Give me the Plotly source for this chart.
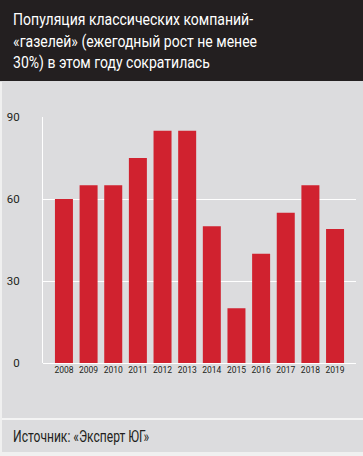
import plotly.graph_objects as go

years = ["2008", "2009", "2010", "2011", "2012", "2013", "2014", "2015", "2016", "2017", "2018", "2019"]
values = [60, 65, 65, 75, 85, 85, 50, 20, 40, 55, 65, 49]
y_ticks = [0, 30, 60, 90]

title_lines = ["Популяция классических компаний-",
               "«газелей» (ежегодный рост не менее",
               "30%) в этом году сократилась"]
source = "Источник: «Эксперт ЮГ»"

W, H = 363, 456
L, R, T, B = 43, 7, 117, 93
PW = W - L - R
PH = H - T - B

def px(x):
    return (x - L) / PW

def py(y):
    return (H - B - y) / PH

FONT = "Roboto, Liberation Sans, sans-serif"
BG = "#dcdcde"
DARK = "#231f20"
RED = "#d0222f"

fig = go.Figure(go.Bar(x=years, y=values, marker_color=RED, marker_line_width=0,
                       width=0.73))

shapes = [
    dict(type="rect", xref="paper", yref="paper", x0=px(0), x1=px(W + 2), y0=py(81), y1=py(-2),
         fillcolor=DARK, line_width=0, layer="below"),
    dict(type="line", xref="paper", yref="paper", x0=px(0), x1=px(W + 2), y0=py(419), y1=py(419),
         line=dict(color="#f4f4f4", width=2)),
    dict(type="rect", xref="paper", yref="paper", x0=px(0), x1=px(W + 2), y0=py(H + 2), y1=py(452),
         fillcolor="#f0f0f0", line_width=0, layer="below"),
    dict(type="line", xref="paper", yref="paper", x0=px(1), x1=px(1), y0=py(452), y1=py(82),
         line=dict(color="#f0f0f0", width=2)),
]

title_centers = [19.5, 41, 62.5]
annotations = []
for line, yc in zip(title_lines, title_centers):
    annotations.append(dict(text=line, xref="paper", yref="paper", x=px(11), y=py(yc),
                            xanchor="left", yanchor="middle", showarrow=False,
                            font=dict(family=FONT, size=16.5, color="white")))
annotations.append(dict(text=source, xref="paper", yref="paper", x=px(11), y=py(435.5),
                        xanchor="left", yanchor="middle", showarrow=False,
                        font=dict(family=FONT, size=17, color=DARK)))

fig.update_layout(
    width=W, height=H,
    margin=dict(l=L, r=R, t=T, b=B, pad=0),
    paper_bgcolor=BG, plot_bgcolor=BG,
    showlegend=False,
    shapes=shapes,
    annotations=annotations,
    xaxis=dict(range=[-0.85, 11.85], showgrid=False, showline=False, zeroline=False,
               tickfont=dict(family=FONT, size=8.5, color=DARK), ticks="", fixedrange=True),
    yaxis=dict(range=[0, 90], tickvals=y_ticks, showgrid=True, gridcolor="white", gridwidth=1,
               showline=True, linecolor="white", linewidth=1, zeroline=True, zerolinecolor="white",
               zerolinewidth=1, ticks="outside", ticklen=20, tickcolor=BG,
               tickfont=dict(family=FONT, size=11.5, color=DARK)),
)

post = """
document.body.style.margin='0';
var gd = document.getElementById('{plot_id}');
function squeeze(){
  gd.querySelectorAll('text.annotation-text').forEach(function(t){
    var s = (t.textContent.indexOf('Источник') === 0) ? 0.71 : 0.85;
    t.removeAttribute('transform');
    var bb = t.getBBox();
    t.setAttribute('transform', 'translate(' + (bb.x * (1 - s)) + ',0) scale(' + s + ',1)');
  });
}
squeeze();
setTimeout(squeeze, 50);
"""

fig.write_html("out.html", post_script=post, config={"displayModeBar": False})
